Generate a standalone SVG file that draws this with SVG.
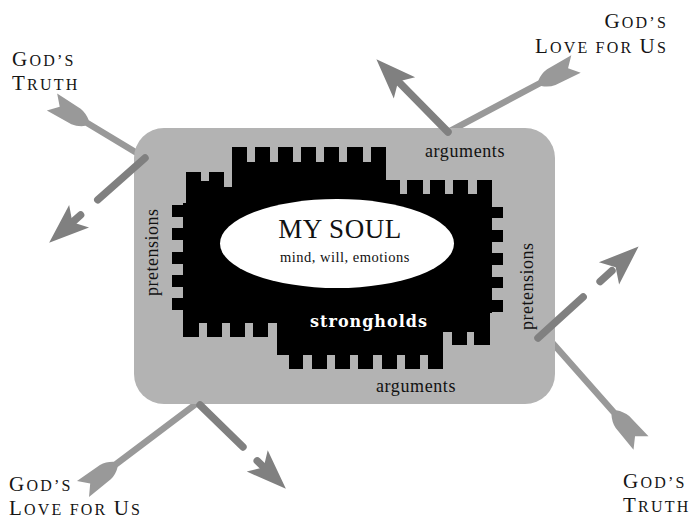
<svg xmlns="http://www.w3.org/2000/svg" width="689" height="521" viewBox="0 0 689 521">
<style>
.lbl{font-family:"Liberation Serif",serif;fill:#151515;letter-spacing:2.2px}
.cap{font-size:21px}
.sc{font-size:16px}
.serif{font-family:"Liberation Serif",serif;fill:#111}
.in{fill:#999999}
.out line{stroke:#808080;stroke-width:7.5;stroke-linecap:round}
.out polygon{fill:#808080}
.castle rect{fill:#000}
</style>
<defs>
<path id="inArrow" d="M0,-10 L9,0 L0,10 L28,9 Q35,8 41,3.2 L160,3.2 L160,-3.2 L41,-3.2 Q35,-8 28,-9 Z"/>
</defs>

<g id="incoming" class="in">
<use href="#inArrow" transform="translate(52,102) rotate(31)"/>
<use href="#inArrow" transform="translate(576,64) rotate(152)"/>
<use href="#inArrow" transform="translate(83,489) rotate(-37)"/>
<use href="#inArrow" transform="translate(641,443) rotate(-131.5)"/>
</g>

<g id="box"><rect x="134" y="128" width="421" height="276" rx="30" fill="#b3b3b3"/></g>

<g id="castle" class="castle">
<rect x="232" y="147" width="15" height="20"/>
<rect x="255" y="147" width="15" height="20"/>
<rect x="278" y="147" width="15" height="20"/>
<rect x="301" y="147" width="15" height="20"/>
<rect x="324" y="147" width="15" height="20"/>
<rect x="347" y="147" width="16" height="20"/>
<rect x="371" y="147" width="15" height="20"/>
<rect x="232" y="162" width="154" height="40"/>
<rect x="186" y="172" width="15" height="14"/>
<rect x="209" y="172" width="15" height="14"/>
<rect x="186" y="181" width="38" height="30"/>
<rect x="224" y="187" width="10" height="24"/>
<rect x="380" y="180" width="20" height="20"/>
<rect x="407" y="180" width="16" height="20"/>
<rect x="430" y="180" width="15" height="20"/>
<rect x="453" y="180" width="15" height="20"/>
<rect x="477" y="180" width="15" height="20"/>
<rect x="186" y="194" width="306" height="119"/>
<rect x="183" y="203" width="307" height="120"/>
<rect x="172" y="205" width="12" height="12"/>
<rect x="172" y="228" width="12" height="12"/>
<rect x="172" y="252" width="12" height="12"/>
<rect x="172" y="275" width="12" height="12"/>
<rect x="172" y="298" width="12" height="12"/>
<rect x="491" y="207" width="12" height="11"/>
<rect x="491" y="230" width="12" height="12"/>
<rect x="491" y="253" width="12" height="12"/>
<rect x="491" y="277" width="12" height="11"/>
<rect x="491" y="300" width="12" height="12"/>
<rect x="183" y="320" width="16" height="17"/>
<rect x="207" y="320" width="15" height="17"/>
<rect x="230" y="320" width="15" height="17"/>
<rect x="253" y="320" width="15" height="17"/>
<rect x="277" y="300" width="166" height="55"/>
<rect x="289" y="350" width="14" height="19"/>
<rect x="312" y="350" width="15" height="19"/>
<rect x="335" y="350" width="15" height="19"/>
<rect x="358" y="350" width="15" height="19"/>
<rect x="382" y="350" width="15" height="19"/>
<rect x="405" y="350" width="15" height="19"/>
<rect x="428" y="350" width="15" height="19"/>
<rect x="443" y="300" width="47" height="32"/>
<rect x="452" y="328" width="15" height="17"/>
<rect x="474" y="328" width="16" height="17"/>
</g>

<g id="soul">
<ellipse cx="337" cy="243.5" rx="117" ry="44.5" fill="#fff"/>
<text class="serif" x="340" y="238" font-size="27" text-anchor="middle" letter-spacing="0.5">MY SOUL</text>
<text class="serif" x="345" y="262" font-size="14.5" text-anchor="middle" letter-spacing="0.5">mind, will, emotions</text>
</g>

<g id="strongholds">
<text x="369" y="327" font-family="'DejaVu Serif',serif" font-weight="bold" font-size="16" fill="#fff" text-anchor="middle" letter-spacing="1">strongholds</text>
</g>

<g id="labels-box">
<text class="serif" x="425" y="157" font-size="18" letter-spacing="0.6">arguments</text>
<text class="serif" x="376" y="392" font-size="18" letter-spacing="0.6">arguments</text>
<text class="serif" font-size="18" letter-spacing="0.5" transform="translate(158,296) rotate(-90)">pretensions</text>
<text class="serif" font-size="18" letter-spacing="0.5" transform="translate(533,330) rotate(-90)">pretensions</text>
</g>

<g id="deflected" class="out">
<g transform="translate(145,158) rotate(138.5)">
<line x1="0" y1="0" x2="63" y2="0"/><line x1="86" y1="0" x2="96" y2="0"/>
<polygon points="128,0 88,-15 97,0 88,15"/>
</g>
<g transform="translate(448,132) rotate(-134.6)">
<line x1="0" y1="0" x2="72" y2="0"/>
<polygon points="102,0 62,-15 71,0 62,15"/>
</g>
<g transform="translate(200,405) rotate(44.3)">
<line x1="0" y1="0" x2="60" y2="0"/><line x1="80" y1="0" x2="89" y2="0"/>
<polygon points="120,0 80,-15 89,0 80,15"/>
</g>
<g transform="translate(538,338) rotate(-42.3)">
<line x1="0" y1="0" x2="61" y2="0"/><line x1="84" y1="0" x2="100" y2="0"/>
<polygon points="136,0 96,-15 105,0 96,15"/>
</g>
</g>

<g id="label-tl">
<text class="lbl" x="12" y="66"><tspan class="cap">G</tspan><tspan class="sc">OD’S</tspan></text>
<text class="lbl" x="12" y="90"><tspan class="cap">T</tspan><tspan class="sc">RUTH</tspan></text>
</g>
<g id="label-tr">
<text class="lbl" x="668" y="28" text-anchor="end"><tspan class="cap">G</tspan><tspan class="sc">OD’S</tspan></text>
<text class="lbl" x="668" y="53" text-anchor="end"><tspan class="cap">L</tspan><tspan class="sc">OVE FOR </tspan><tspan class="cap">U</tspan><tspan class="sc">S</tspan></text>
</g>
<g id="label-bl">
<text class="lbl" x="9" y="491"><tspan class="cap">G</tspan><tspan class="sc">OD’S</tspan></text>
<text class="lbl" x="9" y="515"><tspan class="cap">L</tspan><tspan class="sc">OVE FOR </tspan><tspan class="cap">U</tspan><tspan class="sc">S</tspan></text>
</g>
<g id="label-br">
<text class="lbl" x="623" y="488"><tspan class="cap">G</tspan><tspan class="sc">OD’S</tspan></text>
<text class="lbl" x="623" y="512"><tspan class="cap">T</tspan><tspan class="sc">RUTH</tspan></text>
</g>
</svg>
